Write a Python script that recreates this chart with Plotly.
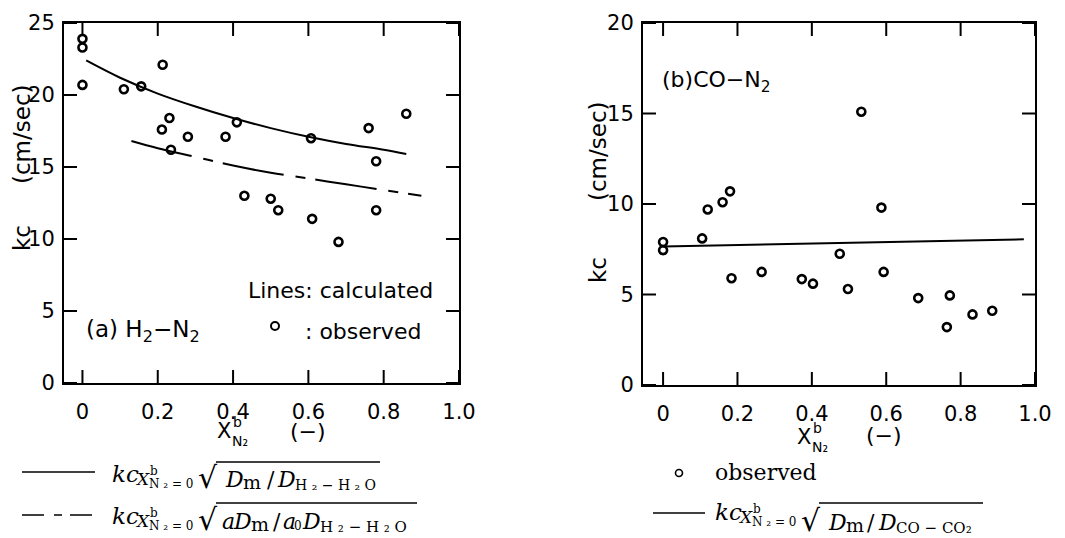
import plotly.graph_objects as go

W, H = 1065, 538

# ---------------- data ----------------
# (a) H2-N2 observed
a_obs_x = [0.0, 0.0, 0.0, 0.11, 0.156, 0.213, 0.211, 0.231, 0.235, 0.28, 0.38, 0.41,
           0.43, 0.50, 0.52, 0.607, 0.61, 0.68, 0.76, 0.78, 0.78, 0.86]
a_obs_y = [23.9, 23.3, 20.7, 20.4, 20.6, 22.1, 17.6, 18.4, 16.2, 17.1, 17.1, 18.1,
           13.0, 12.8, 12.0, 17.0, 11.4, 9.8, 17.7, 15.4, 12.0, 18.7]
# (a) calculated, solid
a_calc1_x = [0.01, 0.1, 0.2, 0.3, 0.4, 0.5, 0.6, 0.7, 0.8, 0.86]
a_calc1_y = [22.4, 21.2, 20.1, 19.2, 18.4, 17.7, 17.1, 16.6, 16.2, 15.9]
# (a) calculated, dashed
a_calc2_x = [0.13, 0.2, 0.3, 0.4, 0.5, 0.6, 0.7, 0.8, 0.9]
a_calc2_y = [16.8, 16.3, 15.7, 15.1, 14.6, 14.2, 13.8, 13.4, 13.0]

# (b) CO-N2 observed
b_obs_x = [0.0, 0.0, 0.105, 0.12, 0.16, 0.18, 0.533, 0.587, 0.475, 0.184, 0.265, 0.373,
           0.403, 0.497, 0.593, 0.686, 0.771, 0.763, 0.832, 0.885]
b_obs_y = [7.9, 7.45, 8.1, 9.7, 10.1, 10.7, 15.1, 9.8, 7.25, 5.9, 6.25, 5.85,
           5.6, 5.3, 6.25, 4.8, 4.95, 3.2, 3.9, 4.1]
# (b) calculated
b_calc_x = [0.0, 0.97]
b_calc_y = [7.65, 8.05]

x_ticks = [0, 0.2, 0.4, 0.6, 0.8, 1.0]
x_ticktext = ["0", "0.2", "0.4", "0.6", "0.8", "1.0"]
a_y_ticks = [0, 5, 10, 15, 20, 25]
b_y_ticks = [0, 5, 10, 15, 20]

A_XRANGE = [-0.049, 1.0]
A_YRANGE = [0, 25]
B_XRANGE = [-0.054, 1.0]
B_YRANGE = [0, 20]

SANS = "DejaVu Sans"
SERIF = "DejaVu Serif"

A_L, A_R, A_T, A_B = 64, 459, 23, 383
B_L, B_R, B_T, B_B = 643, 1035, 23, 385
TL = 13

fig = go.Figure()

mk = dict(symbol="circle-open", size=8, color="black", line=dict(width=2.6, color="black"))

fig.add_trace(go.Scatter(x=a_calc1_x, y=a_calc1_y, mode="lines", line=dict(color="black", width=2, shape="spline"),
                         xaxis="x", yaxis="y", showlegend=False, hoverinfo="skip"))
fig.add_trace(go.Scatter(x=a_calc2_x, y=a_calc2_y, mode="lines",
                         line=dict(color="black", width=2, shape="spline", dash="62px,12px,10px,10px"),
                         xaxis="x", yaxis="y", showlegend=False, hoverinfo="skip"))
fig.add_trace(go.Scatter(x=a_obs_x, y=a_obs_y, mode="markers", marker=mk, xaxis="x", yaxis="y", showlegend=False))

fig.add_trace(go.Scatter(x=b_calc_x, y=b_calc_y, mode="lines", line=dict(color="black", width=2),
                         xaxis="x2", yaxis="y2", showlegend=False, hoverinfo="skip"))
fig.add_trace(go.Scatter(x=b_obs_x, y=b_obs_y, mode="markers", marker=mk, xaxis="x2", yaxis="y2", showlegend=False))


# inside tick marks on all four sides, built from the tick arrays and axis ranges
def tick_trace(xa, ya, xvals, yvals, xr, yr, wpx, hpx):
    dx = (xr[1] - xr[0]) * TL / wpx
    dy = (yr[1] - yr[0]) * TL / hpx
    xs, ys = [], []
    for v in xvals:
        xs += [v, v, None, v, v, None]
        ys += [yr[0], yr[0] + dy, None, yr[1], yr[1] - dy, None]
    for v in yvals:
        xs += [xr[0], xr[0] + dx, None, xr[1], xr[1] - dx, None]
        ys += [v, v, None, v, v, None]
    fig.add_trace(go.Scatter(x=xs, y=ys, mode="lines", line=dict(color="black", width=2),
                             xaxis=xa, yaxis=ya, showlegend=False, hoverinfo="skip", connectgaps=False))


tick_trace("x", "y", x_ticks, a_y_ticks, A_XRANGE, A_YRANGE, A_R - A_L, A_B - A_T)
tick_trace("x2", "y2", x_ticks, b_y_ticks, B_XRANGE, B_YRANGE, B_R - B_L, B_B - B_T)


def px2x(px):
    return px / W


def px2y(py):
    return 1 - py / H


axis_common = dict(showline=True, linewidth=2, linecolor="black", mirror=True, ticks="",
                   showgrid=False, zeroline=False,
                   tickfont=dict(family=SANS, size=21, color="black"))

fig.update_layout(
    template="none",
    width=W, height=H, autosize=False,
    margin=dict(l=0, r=0, t=0, b=0),
    paper_bgcolor="white", plot_bgcolor="white",
    xaxis=dict(domain=[px2x(A_L), px2x(A_R)], range=A_XRANGE, tickvals=x_ticks, ticktext=x_ticktext,
               anchor="y", ticklabelstandoff=9, **axis_common),
    yaxis=dict(domain=[px2y(A_B), px2y(A_T)], range=A_YRANGE, tickvals=a_y_ticks, anchor="x",
               ticklabelstandoff=3, **axis_common),
    xaxis2=dict(domain=[px2x(B_L), px2x(B_R)], range=B_XRANGE, tickvals=x_ticks, ticktext=x_ticktext,
                anchor="y2", ticklabelstandoff=9, **axis_common),
    yaxis2=dict(domain=[px2y(B_B), px2y(B_T)], range=B_YRANGE, tickvals=b_y_ticks, anchor="x2",
                ticklabelstandoff=3, **axis_common),
)


def ann(px, py, text, size, family=SANS, xanchor="left", yanchor="middle", angle=0):
    fig.add_annotation(x=px2x(px), y=px2y(py), xref="paper", yref="paper", text=text, showarrow=False,
                       font=dict(size=size, family=family, color="black"), xanchor=xanchor, yanchor=yanchor,
                       textangle=angle, borderpad=0, borderwidth=0)


def hline(x0, x1, y, dash="solid", width=1.3):
    fig.add_shape(type="line", xref="paper", yref="paper", x0=px2x(x0), x1=px2x(x1), y0=px2y(y), y1=px2y(y),
                  line=dict(color="black", width=width, dash=dash))


def circ(cx, cy, r, width=2):
    fig.add_shape(type="circle", xref="paper", yref="paper", x0=px2x(cx - r), x1=px2x(cx + r),
                  y0=px2y(cy + r), y1=px2y(cy - r), line=dict(color="black", width=width))


# ---- panel (a) texts ----
ann(22, 238, "kc", 23, angle=-90, xanchor="center")
ann(22, 134, "(cm/sec)", 23, angle=-90, xanchor="center")
ann(217, 431, "X", 21)
ann(233, 422, "b", 14)
ann(232, 441, "N₂", 14)
ann(290, 431, "(−)", 22)
ann(248, 290, "Lines: calculated", 22)
circ(275, 326, 4)
ann(305, 331, ": observed", 22)
ann(86, 331, "(a) H<sub>2</sub>−N<sub>2</sub>", 23)

# ---- panel (b) texts ----
ann(598, 270, "kc", 23, angle=-90, xanchor="center")
ann(598, 151, "(cm/sec)", 23, angle=-90, xanchor="center")
ann(797, 437, "X", 21)
ann(813, 428, "b", 14)
ann(812, 447, "N₂", 14)
ann(866, 436, "(−)", 22)
ann(662, 82, "(b)CO−N<sub>2</sub>", 22)


# ---- bottom legends (formula pieces placed one by one) ----
def formula(x0, yk, ybody, body, over_end, over_y):
    ann(x0, yk, "<i>kc</i>", 23, SERIF)
    ann(x0 + 23, yk + 5, "<i>X</i>", 17, SERIF)
    ann(x0 + 38, yk - 3, "b", 12, SERIF)
    ann(x0 + 37, yk + 10, "N ₂ = 0", 12, SERIF)
    ann(x0 + 86, ybody - 2, "√", 30, SERIF)
    hline(x0 + 104, over_end, over_y, width=1.3)
    for dx, dy, txt, sz in body:
        ann(x0 + dx, ybody + dy, txt, sz, SERIF)


body1 = [(113, 0, "<i>D</i>", 22), (131, 3, "m", 19), (155, 0, "/", 22), (165, 0, "<i>D</i>", 22),
         (183, 6, "H ₂ − H ₂ O", 14)]
body2 = [(110, 0, "<i>a</i>", 22), (121, 0, "<i>D</i>", 22), (139, 3, "m", 19), (161, 0, "/", 22),
         (171, 0, "<i>a</i>", 22), (182, 5, "0", 12), (190, 0, "<i>D</i>", 22), (208, 6, "H ₂ − H ₂ O", 15)]
body3 = [(113, 0, "<i>D</i>", 22), (131, 3, "m", 19), (152, 0, "/", 22), (163, 0, "<i>D</i>", 22),
         (181, 6, "CO − CO₂", 15)]

hline(22, 95, 472)
formula(112, 474, 479, body1, 380, 462)
hline(22, 95, 515, dash="22px,10px,8px,8px")
formula(112, 516, 521, body2, 417, 503)

circ(679, 473, 3.5, width=1.6)
ann(715, 472, "observed", 22, SERIF)
hline(653, 705, 513)
formula(715, 512, 522, body3, 983, 503)

fig.write_html("out.html")
